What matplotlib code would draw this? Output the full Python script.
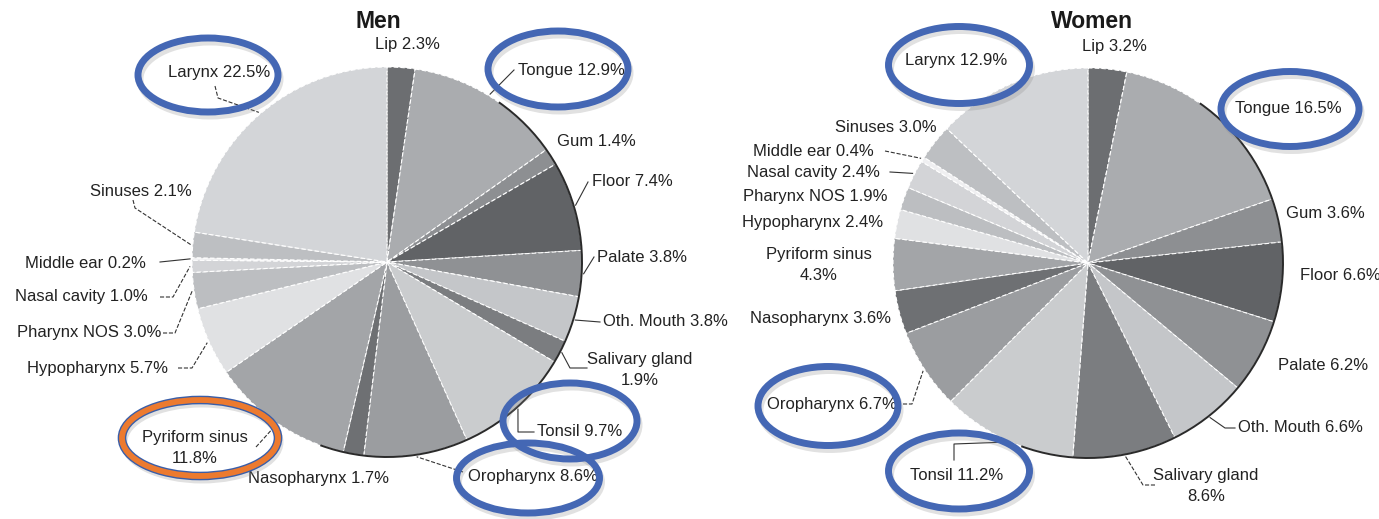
import numpy as np
import matplotlib.pyplot as plt
from matplotlib.patches import Ellipse, Arc

plt.rcParams['font.family'] = ['Liberation Sans', 'DejaVu Sans']

sites = ["Lip", "Tongue", "Gum", "Floor", "Palate", "Oth. Mouth", "Salivary gland",
         "Tonsil", "Oropharynx", "Nasopharynx", "Pyriform sinus", "Hypopharynx",
         "Pharynx NOS", "Nasal cavity", "Middle ear", "Sinuses", "Larynx"]
men_pct = [2.3, 12.9, 1.4, 7.4, 3.8, 3.8, 1.9, 9.7, 8.6, 1.7, 11.8, 5.7, 3.0, 1.0, 0.2, 2.1, 22.5]
women_pct = [3.2, 16.5, 3.6, 6.6, 6.2, 6.6, 8.6, 11.2, 6.7, 3.6, 4.3, 2.4, 1.9, 2.4, 0.4, 3.0, 12.9]

greys = ['#6c6e71', '#aaacaf', '#8d8f92', '#616366', '#8f9194', '#c4c6c9', '#7b7d80',
         '#caccce', '#9b9da0', '#6e7073', '#a3a5a8', '#e0e1e3', '#bcbec1', '#d3d4d7',
         '#efeff1', '#bdbfc2', '#d3d5d8']

# label placement per chart: text pos, alignment, leader path (pixel coords, y down)
men_layout = {
    "Lip": ((375, 45), 'left', None, None),
    "Tongue": ((518, 70), 'left', [(514, 70)], '-'),
    "Gum": ((557, 142), 'left', None, None),
    "Floor": ((592, 182), 'left', [(588, 182)], '-'),
    "Palate": ((597, 257), 'left', [(594, 257)], '-'),
    "Oth. Mouth": ((603, 322), 'left', [(600, 322)], '-'),
    "Salivary gland": ((640, 370), 'center', [(587, 368), (570, 368)], '-'),
    "Tonsil": ((537, 432), 'left', [(534, 432), (518, 432)], '-'),
    "Oropharynx": ((468, 477), 'left', [(463, 472)], '--'),
    "Nasopharynx": ((248, 478), 'left', None, None),
    "Pyriform sinus": ((195, 448), 'center', [(256, 447)], '--'),
    "Hypopharynx": ((27, 368), 'left', [(178, 368), (192, 368)], '--'),
    "Pharynx NOS": ((17, 333), 'left', [(163, 333), (175, 333)], '--'),
    "Nasal cavity": ((15, 297), 'left', [(160, 297), (173, 297)], '--'),
    "Middle ear": ((25, 263), 'left', [(160, 262)], '-'),
    "Sinuses": ((90, 192), 'left', [(133, 200), (135, 208)], '--'),
    "Larynx": ((168, 72), 'left', [(215, 86), (218, 98)], '--'),
}
women_layout = {
    "Lip": ((1082, 47), 'left', None, None),
    "Tongue": ((1235, 109), 'left', None, None),
    "Gum": ((1286, 213), 'left', None, None),
    "Floor": ((1300, 275), 'left', None, None),
    "Palate": ((1278, 365), 'left', None, None),
    "Oth. Mouth": ((1238, 428), 'left', [(1235, 428), (1225, 428)], '-'),
    "Salivary gland": ((1206, 486), 'center', [(1155, 485), (1143, 485)], '--'),
    "Tonsil": ((910, 475), 'left', [(954, 460), (954, 444)], '-'),
    "Oropharynx": ((767, 404), 'left', [(903, 404), (912, 404)], '--'),
    "Nasopharynx": ((750, 318), 'left', None, None),
    "Pyriform sinus": ((819, 265), 'center', None, None),
    "Hypopharynx": ((742, 222), 'left', None, None),
    "Pharynx NOS": ((743, 197), 'left', None, None),
    "Nasal cavity": ((747, 172), 'left', [(890, 172)], '-'),
    "Middle ear": ((753, 152), 'left', [(885, 151)], '--'),
    "Sinuses": ((835, 128), 'left', None, None),
    "Larynx": ((905, 60), 'left', None, None),
}

# highlight rings: (center, width, height, colour)
men_rings = [((208, 75), 140, 74, 'blue'), ((558, 69), 140, 76, 'blue'),
             ((570, 421), 134, 76, 'blue'), ((528, 478), 143, 70, 'blue'),
             ((200, 438), 156, 76, 'orange')]
women_rings = [((959, 65), 141, 77, 'blue'), ((1290, 109), 138, 75, 'blue'),
               ((828, 406), 140, 79, 'blue'), ((959, 471), 141, 76, 'blue')]

fig = plt.figure(figsize=(13.79, 5.19), dpi=100)
ax = fig.add_axes([0, 0, 1, 1])
R = 195


def draw_pie(values, center, title, title_x, layout, rings):
    cx, cy = center
    ax.pie(values, colors=greys, startangle=-90, counterclock=True,
           center=center, radius=R,
           wedgeprops=dict(edgecolor='white', linewidth=0.8, linestyle=(0, (4, 2))))
    # darker rim on the right-hand side of the disc
    ax.add_patch(Arc(center, 2 * R, 2 * R, theta1=-55, theta2=110,
                     color='#2a2a2a', lw=1.4, zorder=3))
    ax.text(title_x, 21, title, ha='center', va='center', fontsize=16.5,
            fontweight='bold', color='#1a1a1a')

    frac = np.cumsum(values) / np.sum(values)
    mids = frac - np.array(values) / np.sum(values) / 2
    for name, v, m in zip(sites, values, mids):
        (tx, ty), ha, path, ls = layout[name]
        label = f"{name}\n{v:.1f}%" if name in ("Salivary gland", "Pyriform sinus") \
            else f"{name} {v:.1f}%"
        ax.text(tx, ty, label, ha=ha, va='center', fontsize=12, color='#222222',
                linespacing=1.55, zorder=5)
        if path:
            th = np.deg2rad(-90 + 360 * m)
            edge = (cx + (R + 2) * np.cos(th), cy + (R + 2) * np.sin(th))
            pts = np.array(path + [edge])
            ax.plot(pts[:, 0], pts[:, 1], color='#333333', lw=0.8, ls=ls, zorder=4)

    for (ex, ey), w, h, kind in rings:
        ax.add_patch(Ellipse((ex + 2, ey + 4), w, h, fill=False,
                             edgecolor='#888888', lw=5, alpha=0.25, zorder=6))
        if kind == 'orange':
            ax.add_patch(Ellipse((ex, ey), w, h, fill=False,
                                 edgecolor='#3a5ea8', lw=6.2, zorder=7))
            ax.add_patch(Ellipse((ex, ey), w, h, fill=False,
                                 edgecolor='#ec7a2f', lw=4.2, zorder=8))
        else:
            ax.add_patch(Ellipse((ex, ey), w, h, fill=False,
                                 edgecolor='#4467b4', lw=5, zorder=7))


draw_pie(men_pct, (387, 262), "Men", 378, men_layout, men_rings)
draw_pie(women_pct, (1088, 263), "Women", 1092, women_layout, women_rings)

ax.set_xlim(0, 1379)
ax.set_ylim(519, 0)
ax.set_aspect('equal')
ax.axis('off')

fig.savefig("out.png", dpi=100, facecolor='white')
